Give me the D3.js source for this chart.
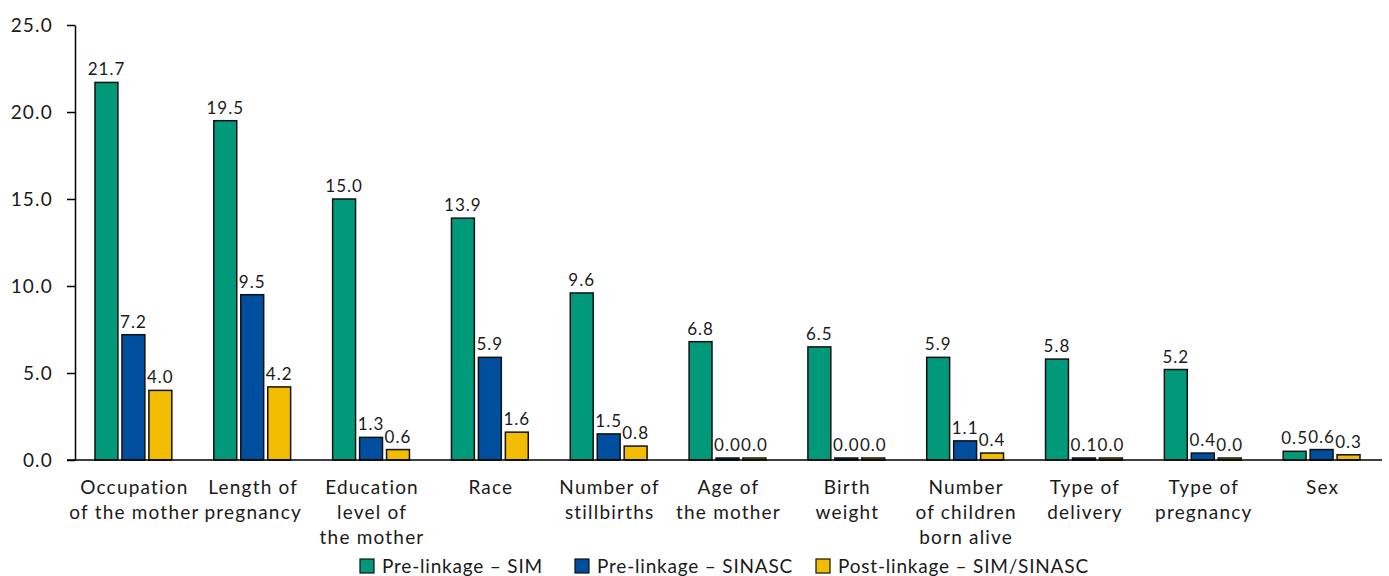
<!DOCTYPE html>
<html>
<head>
<meta charset="utf-8">
<script src="https://cdn.jsdelivr.net/npm/d3@7"></script>
<style>
  body { margin: 0; background: #fff; }
  text { font-family: Lato, "Open Sans", sans-serif; fill: #1a1a1a; letter-spacing: 1.2px; }
</style>
</head>
<body>
<svg id="chart"></svg>
<script>
// categories, each one wrapped into lines as on the picture
let categories = [
  ['Occupation', 'of the mother'],
  ['Length of', 'pregnancy'],
  ['Education', 'level of', 'the mother'],
  ['Race'],
  ['Number of', 'stillbirths'],
  ['Age of', 'the mother'],
  ['Birth', 'weight'],
  ['Number', 'of children', 'born alive'],
  ['Type of', 'delivery'],
  ['Type of', 'pregnancy'],
  ['Sex']
];
let seriesNames = ['Pre-linkage – SIM', 'Pre-linkage – SINASC', 'Post-linkage – SIM/SINASC'];
let seriesColors = ['#00997a', '#004f9f', '#f2bd00'];
let simValues = [21.7, 19.5, 15.0, 13.9, 9.6, 6.8, 6.5, 5.9, 5.8, 5.2, 0.5];
let sinascValues = [7.2, 9.5, 1.3, 5.9, 1.5, 0.0, 0.0, 1.1, 0.1, 0.4, 0.6];
let postValues = [4.0, 4.2, 0.6, 1.6, 0.8, 0.0, 0.0, 0.4, 0.0, 0.0, 0.3];
let yTicks = [0, 5, 10, 15, 20, 25];

let w = 1389, h = 576;
let padLeft = 75, padRight = 1382, padTop = 25, baseY = 460;

let svg = d3.select('#chart').attr('width', w).attr('height', h);

let series = [simValues, sinascValues, postValues];
let rows = categories.map((c, i) => ({
  key: i,
  lines: c,
  values: series.map((s, j) => ({ series: j, value: s[i] }))
}));

let x0 = d3.scaleBand()
  .domain(rows.map((d) => d.key))
  .range([padLeft, padRight]);

let x1 = d3.scaleBand()
  .domain([0, 1, 2])
  .range([20, x0.bandwidth() - 22])
  .paddingInner(0.15);

let y = d3.scaleLinear()
  .domain([0, 25])
  .range([baseY, padTop]);

// y axis
let yAxis = svg.append('g')
  .attr('transform', `translate(${padLeft},0)`)
  .call(d3.axisLeft(y).tickValues(yTicks).tickFormat(d3.format('.1f')).tickSize(8).tickSizeOuter(0));
yAxis.select('.domain').attr('stroke', '#000').attr('stroke-width', 1.5);
yAxis.selectAll('.tick line').attr('stroke', '#000').attr('stroke-width', 1.5);
yAxis.selectAll('.tick text')
  .attr('x', -22)
  .style('font-family', 'Lato, "Open Sans", sans-serif')
  .style('font-size', '19px')
  .attr('fill', '#1a1a1a');

// bars
let groups = svg.selectAll('g.group')
  .data(rows)
  .enter()
  .append('g')
  .attr('class', 'group')
  .attr('transform', (d) => `translate(${x0(d.key)},0)`);

groups.selectAll('rect')
  .data((d) => d.values)
  .enter()
  .append('rect')
  .attr('x', (d) => x1(d.series))
  .attr('width', x1.bandwidth())
  .attr('y', (d) => Math.min(y(d.value), baseY - 2))
  .attr('height', (d) => Math.max(baseY - y(d.value), 2))
  .attr('fill', (d) => seriesColors[d.series])
  .attr('stroke', '#111')
  .attr('stroke-width', 1.5);

groups.selectAll('text.val')
  .data((d) => d.values)
  .enter()
  .append('text')
  .attr('class', 'val')
  .attr('x', (d) => x1(d.series) + x1.bandwidth() / 2)
  .attr('y', (d) => Math.min(y(d.value), baseY - 2) - 7)
  .attr('text-anchor', 'middle')
  .style('font-size', '17px')
  .style('letter-spacing', '1px')
  .text((d) => d3.format('.1f')(d.value));

// baseline
svg.append('line')
  .attr('x1', padLeft - 8).attr('x2', padRight)
  .attr('y1', y(0)).attr('y2', y(0))
  .attr('stroke', '#000').attr('stroke-width', 1.5);

// category labels
groups.append('text')
  .attr('text-anchor', 'middle')
  .style('font-size', '19px')
  .selectAll('tspan')
  .data((d) => d.lines)
  .enter()
  .append('tspan')
  .attr('x', x0.bandwidth() / 2)
  .attr('y', (d, i) => 494 + i * 25)
  .text((d) => d);

// legend
let legendX = [360, 575, 816];
let legend = svg.selectAll('g.legend')
  .data(seriesNames)
  .enter()
  .append('g')
  .attr('class', 'legend')
  .attr('transform', (d, i) => `translate(${legendX[i]},559)`);

legend.append('rect')
  .attr('width', 14).attr('height', 14)
  .attr('fill', (d, i) => seriesColors[i])
  .attr('stroke', '#111').attr('stroke-width', 1.2);

legend.append('text')
  .attr('x', 22).attr('y', 14)
  .style('font-size', '19px')
  .style('letter-spacing', '0.8px')
  .text((d) => d);
</script>
</body>
</html>
